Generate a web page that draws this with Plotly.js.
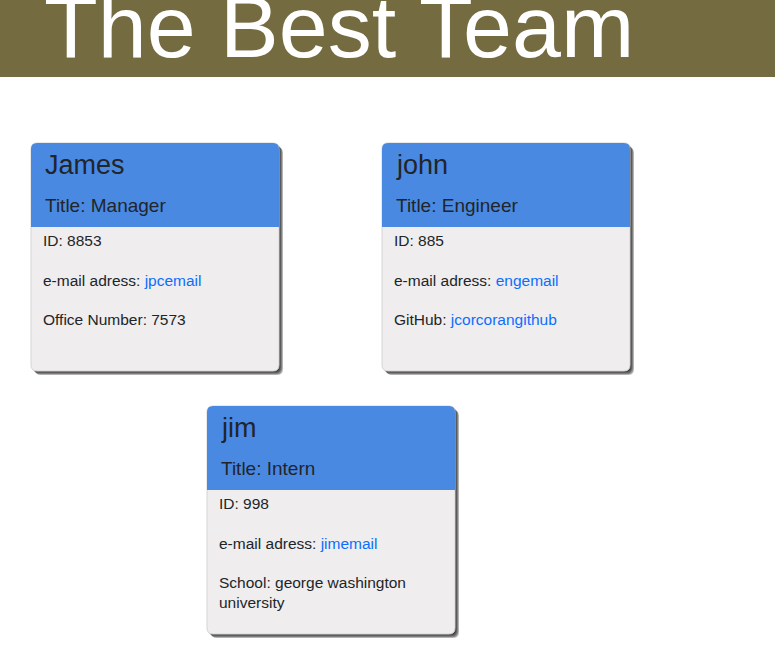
<!DOCTYPE html>
<html>
<head>
<meta charset="utf-8">
<script src="https://cdn.plot.ly/plotly-3.0.1.min.js"></script>
<style>
  html, body { margin: 0; padding: 0; background: #fff; }
  #team { width: 775px; height: 648px; }
</style>
</head>
<body>
<div id="team"></div>
<script>
// team members
const names = ["James", "john", "jim"];
const roles = ["Manager", "Engineer", "Intern"];
const ids = ["8853", "885", "998"];
const emails = ["jpcemail", "engemail", "jimemail"];
const extraLabels = ["Office Number", "GitHub", "School"];
const extraValues = ["7573", "jcorcorangithub", "george washington<br>university"];
const extraIsLink = [false, true, false];

// card placement (top-left corners, px)
const cardLeft = [31, 382, 207];
const cardTop = [143, 143, 406];
const cardW = 248, cardH = 228, headH = 84;

const FONT = "Liberation Sans, Arial, sans-serif";
const LINK = "#0d6efd";
const INK = "#212529";

function roundTop(x, y, w, h, r) {
  return `M${x},${y + h} L${x},${y + r} Q${x},${y} ${x + r},${y} L${x + w - r},${y} ` +
    `Q${x + w},${y} ${x + w},${y + r} L${x + w},${y + h} Z`;
}
function roundAll(x, y, w, h, r) {
  return `M${x},${y + r} Q${x},${y} ${x + r},${y} L${x + w - r},${y} Q${x + w},${y} ${x + w},${y + r} ` +
    `L${x + w},${y + h - r} Q${x + w},${y + h} ${x + w - r},${y + h} L${x + r},${y + h} ` +
    `Q${x},${y + h} ${x},${y + h - r} Z`;
}

const shapes = [
  // header band
  { type: "rect", x0: 0, x1: 775, y0: 0, y1: 77, fillcolor: "#756b40", line: { width: 0 }, layer: "below" }
];
const annotations = [
  { x: 42, y: 78, xanchor: "left", yanchor: "bottom", showarrow: false,
    text: "The Best Team", font: { family: FONT, size: 88, color: "#ffffff" } }
];

function label(x, y, text, size) {
  annotations.push({ x: x, y: y, xanchor: "left", yanchor: "middle", align: "left", showarrow: false,
    text: text, font: { family: FONT, size: size, color: INK } });
}

names.forEach((name, i) => {
  const x = cardLeft[i], y = cardTop[i];
  // shadow
  for (let k = 1; k <= 5; k++) {
    shapes.push({ type: "path", path: roundAll(x + k * 0.8, y + k * 0.8, cardW, cardH, 6),
      fillcolor: "rgba(0,0,0,0.25)", line: { width: 0 } });
  }
  shapes.push({ type: "path", path: roundAll(x, y, cardW, cardH, 6), fillcolor: "#efedee",
    line: { color: "#d6d4d5", width: 1 } });
  shapes.push({ type: "path", path: roundTop(x, y, cardW, headH, 6), fillcolor: "#4a89e2",
    line: { width: 0 } });

  label(x + 12, y + 22, name, 27);
  label(x + 12, y + 62, "Title: " + roles[i], 19);
  label(x + 10, y + 97, "ID: " + ids[i], 15.5);
  label(x + 10, y + 137, "e-mail adress: <span style='color:" + LINK + "'>" + emails[i] + "</span>", 15.5);
  const val = extraIsLink[i] ? "<span style='color:" + LINK + "'>" + extraValues[i] + "</span>" : extraValues[i];
  annotations.push({ x: x + 10, y: y + 166, xanchor: "left", yanchor: "top", align: "left", showarrow: false,
    text: extraLabels[i] + ": " + val, font: { family: FONT, size: 15.5, color: INK } });
});

const layout = {
  width: 775, height: 648,
  margin: { l: 0, r: 0, t: 0, b: 0 },
  paper_bgcolor: "#ffffff", plot_bgcolor: "#ffffff",
  xaxis: { range: [0, 775], visible: false, fixedrange: true },
  yaxis: { range: [648, 0], visible: false, fixedrange: true },
  shapes: shapes,
  annotations: annotations,
  showlegend: false
};

Plotly.newPlot("team", [], layout, { displayModeBar: false, staticPlot: true });
</script>
</body>
</html>
